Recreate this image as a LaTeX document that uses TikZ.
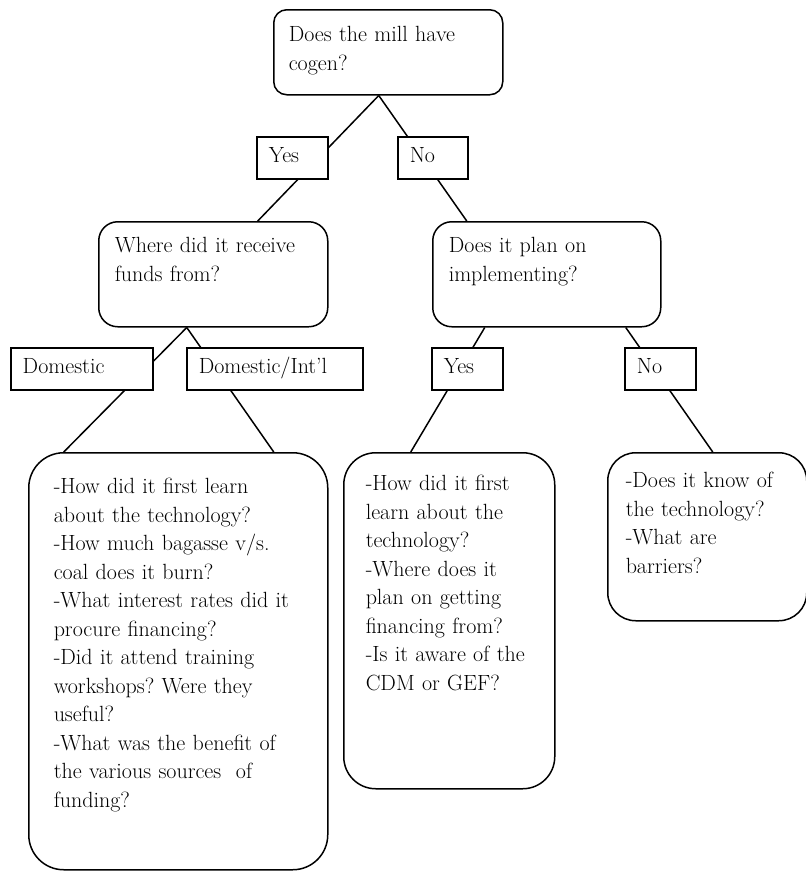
\documentclass[tikz,border=0pt]{standalone}
\usepackage{fontspec}
\usepackage{tikz}

\begin{document}
\frenchspacing
\begin{tikzpicture}[
    x = 1pt,
    y = -1pt,
    line width = 1.5pt,
    font = \fontsize{22}{28.5}\selectfont,
    question/.style = {draw, align = left, anchor = north west, inner ysep = 0pt},
    answer/.style   = {draw, fill = white, align = left, anchor = north west,
                       inner ysep = 0pt, inner xsep = 12pt,
                       text height = 26pt, text depth = 16pt}
]

\useasboundingbox (0,0) rectangle (806,871);

% Questions
\node[question, rounded corners = 13pt, inner xsep = 15pt, text width = 199pt,
      text height = 32pt, text depth = 53pt]  (cogen) at (273,9)   {Does the mill have\\cogen?};
\node[question, rounded corners = 19pt, inner xsep = 16pt, text width = 197pt,
      text height = 31pt, text depth = 74pt]  (funds) at (98,221)  {Where did it receive\\funds from?};
\node[question, rounded corners = 19pt, inner xsep = 16pt, text width = 196pt,
      text height = 31pt, text depth = 74pt]  (plan)  at (432,221) {Does it plan on\\implementing?};
\node[question, rounded corners = 35pt, inner xsep = 25pt, text width = 249pt,
      text height = 41pt, text depth = 376pt] (have)  at (28,452)
      {-How did it first learn\\about the technology?\\-How much bagasse v/s.\\coal does it burn?\\
       -What interest rates did it\\procure financing?\\-Did it attend training\\
       workshops? Were they\\useful?\\-What was the benefit of\\the various sources~ of\\funding?};
\node[question, rounded corners = 32pt, inner xsep = 22pt, text width = 167pt,
      text height = 38pt, text depth = 298pt] (will)  at (343,452)
      {-How did it first\\learn about the\\technology?\\-Where does it\\plan on getting\\
       financing from?\\-Is it aware of the\\CDM or GEF?};
\node[question, rounded corners = 28pt, inner xsep = 18pt, text width = 163pt,
      text height = 35pt, text depth = 133pt] (wont)  at (607,452)
      {-Does it know of\\the technology?\\-What are\\barriers?};

% Branches
\draw ([xshift = -9.5pt]cogen.south)  -- ([xshift = 44.5pt]funds.north);
\draw ([xshift = -9.5pt]cogen.south)  -- ([xshift = -80pt]plan.north);
\draw ([xshift = -26.5pt]funds.south) -- ([xshift = -114.5pt]have.north);
\draw ([xshift = -26.5pt]funds.south) -- ([xshift = 95.5pt]have.north);
\draw ([xshift = -62pt]plan.south)    -- ([xshift = -38.5pt]will.north);
\draw ([xshift = 79pt]plan.south)     -- ([xshift = 5.5pt]wont.north);

% Answers
\node[answer, text width = 47pt]  (yes1) at (256,136) {Yes};
\node[answer, text width = 46pt]  (no1)  at (397,136) {No};
\node[answer, text width = 118pt] (dom)  at (10,347)  {Domestic};
\node[answer, text width = 152pt] (int)  at (186,347) {Domestic/Int’l};
\node[answer, text width = 47pt]  (yes2) at (431,347) {Yes};
\node[answer, text width = 47pt]  (no2)  at (624,347) {No};

\end{tikzpicture}
\end{document}
